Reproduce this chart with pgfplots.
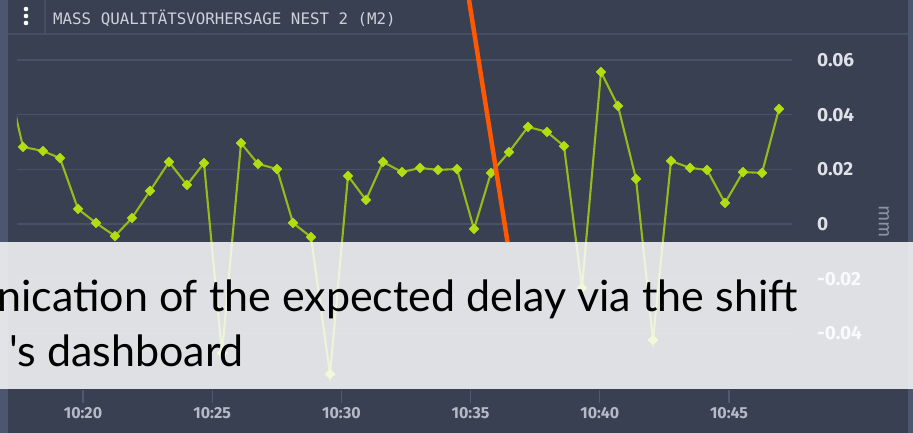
\documentclass[border=0pt]{standalone}
\usepackage{pgfplots}
\pgfplotsset{compat=1.18}
\usepackage{fontspec}
\setmainfont{Fira Sans}
\newfontfamily\monof{DejaVu Sans Mono}
\newfontfamily\lightf{Lato}
\definecolor{bgc}{RGB}{56,64,82}
\definecolor{stripc}{RGB}{76,86,110}
\definecolor{sepc}{RGB}{70,79,98}
\definecolor{gridc}{RGB}{72,82,102}
\definecolor{tickc}{RGB}{80,90,110}
\definecolor{titlec}{RGB}{205,210,218}
\definecolor{ylabc}{RGB}{222,226,232}
\definecolor{xlabc}{RGB}{180,186,198}
\definecolor{unitc}{RGB}{140,148,164}
\definecolor{linec}{RGB}{152,186,26}
\definecolor{markc}{RGB}{176,222,16}
\definecolor{orangec}{RGB}{255,88,0}
\pgfplotstableread{
t v
16.981 0.0567
17.678 0.0282
18.452 0.0267
19.110 0.0241
19.807 0.0055
20.503 0.0004
21.238 -0.0044
21.896 0.0022
22.593 0.0121
23.328 0.0227
24.025 0.0143
24.683 0.0223
25.379 -0.0472
26.115 0.0296
26.772 0.0220
27.508 0.0201
28.127 0.0004
28.824 -0.0048
29.559 -0.0549
30.256 0.0176
30.952 0.0088
31.610 0.0227
32.345 0.0190
33.042 0.0205
33.739 0.0198
34.474 0.0201
35.132 -0.0018
35.789 0.0187
36.486 0.0263
37.221 0.0355
37.957 0.0337
38.615 0.0285
39.311 -0.0234
40.046 0.0556
40.704 0.0432
41.401 0.0165
42.059 -0.0424
42.755 0.0231
43.491 0.0205
44.149 0.0198
44.845 0.0077
45.542 0.0190
46.277 0.0187
46.935 0.0421
}\datatable
\begin{document}
\begin{tikzpicture}[x=1pt,y=1pt]
\useasboundingbox (0,0) rectangle (913,433);
\clip (0,0) rectangle (913,433);
\fill[bgc] (0,0) rectangle (913,433);
\fill[stripc] (0,0) rectangle (8,433);
\fill[stripc] (908,0) rectangle (913,433);
\draw[sepc, line width=1.5pt] (8,399) -- (908,399);
\draw[sepc, line width=1.2pt] (45,399) -- (45,433);
\fill[white] (26,424) circle (2.3pt) (26,417) circle (2.3pt) (26,410) circle (2.3pt);
\node[anchor=base west, inner sep=0pt, text=titlec, font=\monof\fontsize{15.8}{18}\selectfont] at (53,408) {MASS QUALITÄTSVORHERSAGE NEST 2 (M2)};
\begin{axis}[
  at={(17pt,43pt)}, anchor=south west,
  scale only axis, width=775pt, height=350pt,
  xmin=17.446, xmax=47.438, ymin=-0.0607, ymax=0.0673,
  axis line style={draw=none},
  scaled y ticks=false,
  ytick={-0.04,-0.02,0,0.02,0.04,0.06},
  yticklabels={-0.04,-0.02,0,0.02,0.04,0.06},
  yticklabel pos=right,
  ytick style={draw=none},
  ymajorgrids,
  grid style={color=gridc, line width=1.5pt},
  yticklabel style={anchor=west, inner sep=0pt, xshift=25pt, text=ylabc, font=\bfseries\fontsize{19}{22}\selectfont},
  xtick={20,25,30,35,40,45},
  xticklabels={10:20,10:25,10:30,10:35,10:40,10:45},
  xtick pos=bottom,
  xtick align=outside,
  major tick length=13pt,
  xtick style={color=tickc, line width=1.2pt},
  xticklabel style={anchor=north, inner sep=0pt, yshift=-4.5pt, text=xlabc, font=\bfseries\fontsize{16}{18}\selectfont},
]
\addplot[color=linec, line width=2.1pt, mark=square*, mark size=3.5pt,
  mark options={rotate=45, fill=markc, draw=markc, line width=0.4pt}] table[x=t, y=v] {\datatable};
\end{axis}
\node[rotate=-90, inner sep=0pt, text=unitc, font=\fontsize{19}{22}\selectfont] at (884,211) {mm};
\fill[white, opacity=0.84] (0,44) rectangle (913,191);
\draw[orangec, line width=4.5pt] (469,433) -- (507.5,191);
\node[anchor=base west, inner sep=0pt, text=black, font=\lightf\fontsize{43}{50}\selectfont] at (-3,121) {nication of the expected delay via the shift};
\node[anchor=base west, inner sep=0pt, text=black, font=\lightf\fontsize{43}{50}\selectfont] at (9,66) {'s dashboard};
\end{tikzpicture}
\end{document}
